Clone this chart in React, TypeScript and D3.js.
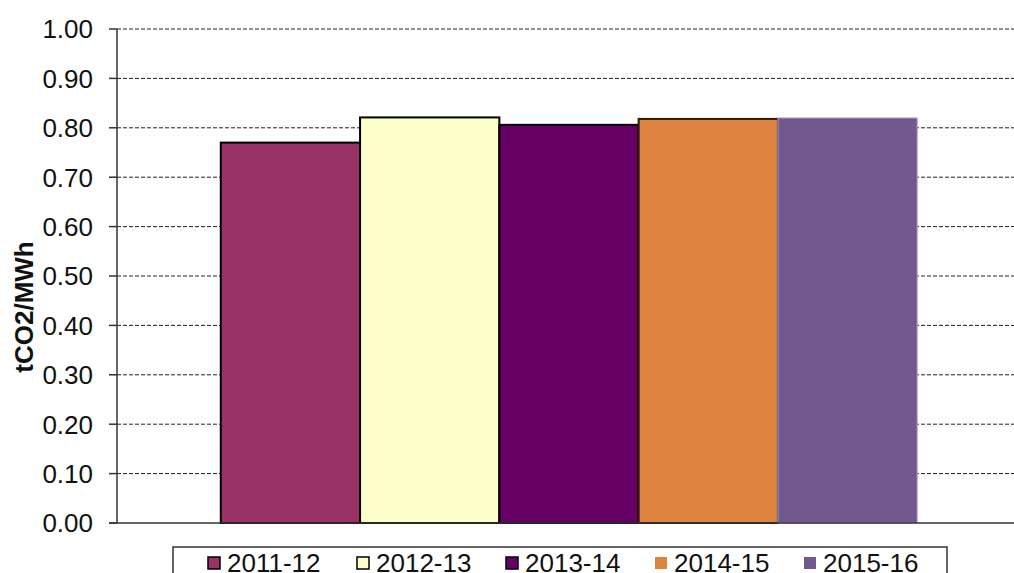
import React from "react";
import * as d3 from "d3";

// values
const years = ["2011-12", "2012-13", "2013-14", "2014-15", "2015-16"];
const values = [0.77, 0.821, 0.806, 0.818, 0.82];
const fills = ["#993366", "#FFFFCC", "#660066", "#DC843F", "#71588F"];
const strokes = ["#000", "#000", "#000", "#2b1a0a", "#b8a8cc"];
const legendBorder = [true, true, true, false, false];
const yTicks = [0, 0.1, 0.2, 0.3, 0.4, 0.5, 0.6, 0.7, 0.8, 0.9, 1.0];

const W = 1014;
const H = 573;
const font = "Arial, 'Liberation Sans', sans-serif";

export default function App() {
  const left = 117;
  const right = 1021;
  const top = 29;
  const bottom = 523;

  const y = d3.scaleLinear().domain([0, 1]).range([bottom, top]);
  // one category group; the five bars sit side by side in the middle
  const group = d3.scaleBand().domain(["all"]).range([left, right]).paddingInner(0).paddingOuter(0.149);
  const x = d3.scaleBand().domain(years).range([group("all")!, group("all")! + group.bandwidth()]);
  const fmt = d3.format(".2f");

  const legendX = 173;
  const legendY = 547;
  const step = 149;

  return (
    <svg width={W} height={H} style={{ position: "absolute", left: 0, top: 0, background: "#fff" }}>
      {yTicks.map((t) => (
        <g key={t}>
          {t > 0 && (
            <line x1={left} x2={right} y1={y(t)} y2={y(t)} stroke="#222" strokeWidth={1} strokeDasharray="4,2" />
          )}
          <line x1={left - 8} x2={left} y1={y(t)} y2={y(t)} stroke="#333" strokeWidth={1.5} />
          <text x={93} y={y(t)} dy="0.36em" textAnchor="end" fontFamily={font} fontSize={26} fill="#111">
            {fmt(t)}
          </text>
        </g>
      ))}
      {years.map((yr, i) => (
        <rect
          key={yr}
          x={x(yr)!}
          y={y(values[i])}
          width={x.bandwidth()}
          height={bottom - y(values[i])}
          fill={fills[i]}
          stroke={strokes[i]}
          strokeWidth={i < 4 ? 2 : 1}
        />
      ))}
      <line x1={left} x2={left} y1={top} y2={bottom} stroke="#333" strokeWidth={1.5} />
      <line x1={left - 8} x2={right} y1={bottom} y2={bottom} stroke="#333" strokeWidth={1.5} />
      <text
        transform={`translate(33,307) rotate(-90)`}
        textAnchor="middle"
        fontFamily={font}
        fontWeight="bold"
        fontSize={26}
        fill="#111"
      >
        tCO2/MWh
      </text>
      <rect x={legendX} y={legendY} width={774} height={40} fill="#fff" stroke="#333" strokeWidth={1.5} />
      {years.map((yr, i) => (
        <g key={yr} transform={`translate(${208 + i * step},0)`}>
          <rect
            x={0}
            y={557}
            width={12}
            height={12}
            fill={fills[i]}
            stroke={legendBorder[i] ? "#000" : "none"}
            strokeWidth={1.5}
          />
          <text x={19} y={572} fontFamily={font} fontSize={26} fill="#111">
            {yr}
          </text>
        </g>
      ))}
    </svg>
  );
}
